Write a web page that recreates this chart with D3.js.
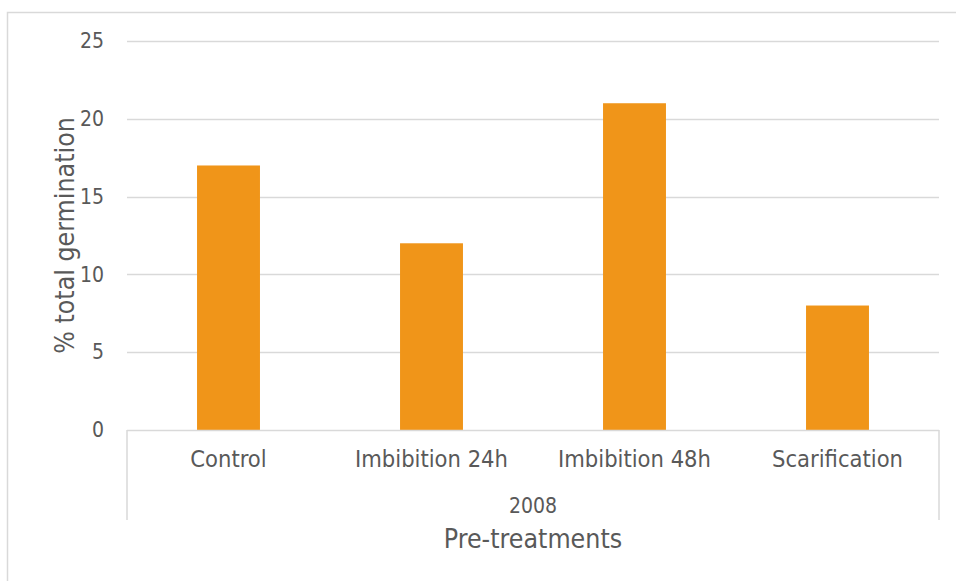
<!DOCTYPE html>
<html>
<head>
<meta charset="utf-8">
<script src="https://cdn.jsdelivr.net/npm/d3@7"></script>
<style>
  html, body { margin: 0; padding: 0; background: #fff; }
  svg { display: block; }
  text { font-family: "DejaVu Sans Condensed", "DejaVu Sans", sans-serif; font-stretch: condensed; fill: #595959; }
</style>
</head>
<body>
<svg id="chart" width="956" height="581"></svg>
<script>
// Total germination (%) per pre-treatment, 2008 trial
const categories = ["Control", "Imbibition 24h", "Imbibition 48h", "Scarification"];
const germination = [17, 12, 21, 8];
const yTicks = [0, 5, 10, 15, 20, 25];
const groupLabel = "2008";
const xTitle = "Pre-treatments";
const yTitle = "% total germination";

const FONT = '"DejaVu Sans Condensed", "DejaVu Sans", sans-serif';
const svg = d3.select("#chart");
const margin = { left: 127, right: 17, top: 41, bottom: 151 };
const W = 956, H = 581;
const x0 = margin.left, x1 = W - margin.right;
const y0 = H - margin.bottom, y1 = margin.top;

// Chart area frame
svg.append("rect")
  .attr("x", 7.5).attr("y", 12.5)
  .attr("width", 960).attr("height", 600)
  .attr("fill", "none").attr("stroke", "#d9d9d9").attr("stroke-width", 1.5);

const x = d3.scaleBand().domain(categories).range([x0, x1]).paddingInner(0.69).paddingOuter(0.345);
const band = d3.scaleBand().domain(categories).range([x0, x1]);
const y = d3.scaleLinear().domain([0, 25]).range([y0, y1]);

// Gridlines
svg.append("g")
  .selectAll("line")
  .data(yTicks.filter(d => d > 0))
  .join("line")
  .attr("x1", x0).attr("x2", x1)
  .attr("y1", d => Math.round(y(d)) + 0.5).attr("y2", d => Math.round(y(d)) + 0.5)
  .attr("stroke", "#d9d9d9").attr("stroke-width", 1.5);

// Y tick labels
const yAxis = d3.axisLeft(y).tickValues(yTicks).tickSize(0).tickPadding(0);
const gy = svg.append("g").attr("transform", `translate(${x0 - 23},0)`).call(yAxis);
gy.select(".domain").remove();
gy.selectAll("text")
  .attr("font-size", 21)
  .attr("fill", "#595959")
  .style("font-family", FONT);

// Bars
svg.append("g")
  .selectAll("rect")
  .data(categories.map((c, i) => ({ c, v: germination[i] })))
  .join("rect")
  .attr("x", d => x(d.c))
  .attr("width", x.bandwidth())
  .attr("y", d => y(d.v))
  .attr("height", d => y(0) - y(d.v))
  .attr("fill", "#f09519");

// Category axis: baseline plus group bracket
const axisColor = "#d9d9d9";
svg.append("line")
  .attr("x1", x0).attr("x2", x1)
  .attr("y1", y0 + 0.5).attr("y2", y0 + 0.5)
  .attr("stroke", axisColor).attr("stroke-width", 1.5);
[x0, x1].forEach(xx => {
  svg.append("line")
    .attr("x1", xx).attr("x2", xx)
    .attr("y1", y0).attr("y2", y0 + 90)
    .attr("stroke", axisColor).attr("stroke-width", 1.5);
});

// Category labels
const xAxis = d3.axisBottom(band).tickSize(0).tickPadding(0);
const gx = svg.append("g").attr("transform", `translate(0,${y0})`).call(xAxis);
gx.select(".domain").remove();
gx.selectAll("text")
  .attr("dy", null)
  .attr("y", 37)
  .attr("font-size", 23.5)
  .attr("fill", "#595959")
  .style("font-family", FONT);

// Group label
svg.append("text")
  .attr("x", (x0 + x1) / 2).attr("y", y0 + 83)
  .attr("text-anchor", "middle")
  .attr("font-size", 21)
  .text(groupLabel);

// Axis titles
svg.append("text")
  .attr("x", (x0 + x1) / 2).attr("y", y0 + 118)
  .attr("text-anchor", "middle")
  .attr("font-size", 26.5)
  .text(xTitle);

svg.append("text")
  .attr("transform", `translate(${74},${(y0 + y1) / 2}) rotate(-90)`)
  .attr("text-anchor", "middle")
  .attr("font-size", 26.5)
  .text(yTitle);
</script>
</body>
</html>
